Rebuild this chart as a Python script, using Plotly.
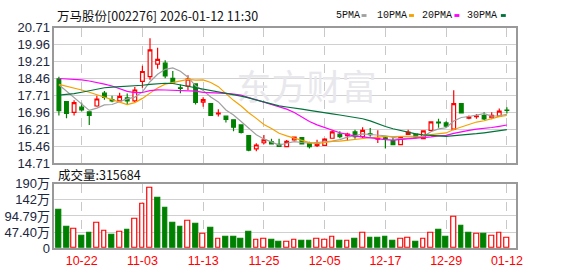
import plotly.graph_objects as go

title_text = "万马股份[002276] 2026-01-12 11:30"
volume_title = "成交量"

dates = ["10-17", "10-20", "10-21", "10-22", "10-23", "10-24", "10-27", "10-28", "10-29", "10-30",
         "10-31", "11-03", "11-04", "11-05", "11-06", "11-07", "11-10", "11-11", "11-12", "11-13",
         "11-14", "11-17", "11-18", "11-19", "11-20", "11-21", "11-24", "11-25", "11-26", "11-27",
         "11-28", "12-01", "12-02", "12-03", "12-04", "12-05", "12-08", "12-09", "12-10", "12-11",
         "12-12", "12-15", "12-16", "12-17", "12-18", "12-19", "12-22", "12-23", "12-24", "12-25",
         "12-26", "12-29", "12-30", "12-31", "01-05", "01-06", "01-07", "01-08", "01-09", "01-12"]

opens = [18.44, 17.44, 16.96, 17.19, 16.98, 17.24, 17.81, 17.52, 17.47, 17.60,
         17.47, 18.33, 18.54, 19.10, 19.14, 18.47, 18.05, 18.12, 18.22, 17.41,
         17.35, 16.89, 16.79, 16.63, 16.40, 15.93, 15.34, 15.61, 15.65, 15.54,
         15.44, 15.74, 15.84, 15.58, 15.48, 15.49, 15.81, 15.99, 15.93, 16.09,
         15.88, 16.01, 15.77, 15.83, 15.70, 15.53, 15.98, 15.99, 15.79, 16.16,
         16.53, 16.49, 16.21, 17.35, 16.70, 16.77, 16.81, 16.72, 16.79, 17.06]
highs = [18.54, 17.44, 17.49, 17.38, 16.98, 17.69, 17.91, 17.69, 17.83, 17.79,
         18.08, 19.03, 20.25, 19.83, 19.27, 18.79, 18.19, 18.61, 18.22, 17.63,
         17.35, 17.10, 16.79, 16.65, 16.40, 15.93, 15.59, 15.95, 15.79, 15.79,
         15.73, 15.88, 15.84, 15.65, 15.74, 15.81, 16.16, 16.12, 16.05, 16.19,
         16.30, 16.26, 16.16, 15.91, 15.88, 15.91, 16.19, 15.99, 16.16, 16.54,
         16.68, 16.56, 17.94, 17.35, 16.82, 16.88, 16.96, 16.96, 17.13, 17.19]
lows = [16.82, 16.70, 16.82, 17.00, 16.40, 17.21, 17.52, 17.41, 17.47, 17.28,
        17.41, 18.05, 18.40, 18.89, 18.47, 18.26, 17.81, 17.95, 17.31, 17.21,
        16.82, 16.77, 16.51, 16.12, 16.02, 15.23, 15.23, 15.54, 15.54, 15.42,
        15.44, 15.70, 15.54, 15.35, 15.42, 15.47, 15.79, 15.81, 15.70, 15.79,
        15.81, 15.88, 15.60, 15.35, 15.51, 15.53, 15.95, 15.81, 15.79, 16.16,
        16.28, 16.26, 16.16, 16.93, 16.65, 16.68, 16.62, 16.65, 16.77, 16.91]
closes = [17.03, 16.91, 17.39, 17.07, 16.82, 17.55, 17.62, 17.47, 17.67, 17.47,
          17.95, 18.77, 19.73, 19.31, 18.58, 18.26, 18.02, 18.43, 17.40, 17.52,
          16.82, 16.93, 16.65, 16.30, 16.07, 15.28, 15.51, 15.74, 15.56, 15.45,
          15.67, 15.86, 15.56, 15.44, 15.58, 15.77, 16.09, 15.88, 15.99, 15.88,
          16.16, 15.97, 15.81, 15.78, 15.53, 15.86, 16.08, 15.86, 16.14, 16.54,
          16.49, 16.35, 17.35, 16.93, 16.75, 16.79, 16.67, 16.82, 17.01, 17.04]
volumes = [1115000, 641000, 576000, 362000, 437000, 743000, 520000, 390000, 493000, 530000,
           864000, 1300000, 1775000, 1478000, 1199000, 753000, 641000, 800000, 725000, 409000,
           585000, 270000, 335000, 335000, 279000, 474000, 242000, 270000, 251000, 195000,
           186000, 251000, 223000, 223000, 270000, 251000, 325000, 223000, 214000, 279000,
           437000, 307000, 307000, 335000, 223000, 270000, 297000, 195000, 270000, 465000,
           530000, 335000, 920000, 669000, 446000, 409000, 418000, 362000, 465000, 315684]

ma5_head = [18.18, 17.90, 17.62, 17.36]
ma10_head = [18.20, 18.12, 18.05, 17.95, 17.85, 17.74, 17.62, 17.49, 17.38]
ma20_head = [18.46, 18.45, 18.43, 18.40, 18.35, 18.29, 18.21, 18.13, 18.00, 17.89,
             17.83, 17.84, 17.92, 17.96, 17.95, 17.94, 17.93, 17.92, 17.90]
ma30_head = [17.72, 17.74, 17.79, 17.85, 17.92, 17.99, 18.05, 18.08, 18.10, 18.11,
             18.12, 18.16, 18.20, 18.23, 18.25, 18.24, 18.18, 18.10, 18.03, 17.97,
             17.93, 17.88, 17.82, 17.75, 17.68, 17.60, 17.51, 17.42, 17.33]

tick_dates = ["10-22", "11-03", "11-13", "11-25", "12-05", "12-17", "12-29", "01-12"]
price_ticks = [14.71, 15.46, 16.21, 16.96, 17.71, 18.46, 19.21, 19.96, 20.71]
vol_axis_max = 1895800
vol_tick_labels = ["0", "47.40万", "94.79万", "142万", "190万"]

ma_names = ["5PMA", "10PMA", "20PMA", "30PMA"]
ma_colors = ["#a0a0a0", "#f5a200", "#ff00ff", "#00733a"]

RED = "#ff0000"
GREEN = "#008000"
W, H = 578, 276


def moving_average(vals, n, head):
    out = list(head)
    for i in range(len(head), len(vals)):
        out.append(sum(vals[i - n + 1:i + 1]) / n)
    return out


mas = [moving_average(closes, 5, ma5_head), moving_average(closes, 10, ma10_head),
       moving_average(closes, 20, ma20_head), moving_average(closes, 30, ma30_head)]

xs = list(range(len(dates)))
tickvals = [dates.index(d) for d in tick_dates]

fig = go.Figure()

# watermark (drawn first so it stays beneath the marks)
fig.add_trace(go.Scatter(x=[32.6], y=[17.90], mode="text", text=["东方财富"],
                         textfont=dict(size=35, color="#e8e8ec", family="Noto Sans CJK SC"),
                         hoverinfo="skip", showlegend=False, xaxis="x", yaxis="y"))

for name, col, vals in zip(ma_names, ma_colors, mas):
    fig.add_trace(go.Scatter(x=xs, y=vals, mode="lines", name=name,
                             line=dict(color=col, width=1.2), hoverinfo="skip",
                             showlegend=False, xaxis="x", yaxis="y"))

fig.add_trace(go.Candlestick(
    x=xs, open=opens, high=highs, low=lows, close=closes,
    increasing=dict(line=dict(color=RED, width=1.2), fillcolor="white"),
    decreasing=dict(line=dict(color=GREEN, width=1.2), fillcolor=GREEN),
    whiskerwidth=0, hoverinfo="skip", showlegend=False, xaxis="x", yaxis="y"))

vol_up = [(closes[i] > (closes[i - 1] if i > 0 else opens[0])) for i in range(len(closes))]
fig.add_trace(go.Bar(
    x=xs, y=volumes, width=0.62,
    marker=dict(color=["white" if u else GREEN for u in vol_up],
                line=dict(color=[RED if u else GREEN for u in vol_up], width=1.2)),
    hoverinfo="skip", showlegend=False, xaxis="x2", yaxis="y2"))

xdom = [55 / W, 522 / W]
frame = dict(showline=True, linecolor="#999999", linewidth=1.5, mirror=True, zeroline=False, ticks="")
xcommon = dict(domain=xdom, range=[-0.6, 60.16], tickvals=tickvals, ticktext=tick_dates,
               showgrid=True, gridcolor="#c8c8c8", griddash="dash", gridwidth=1, **frame)

fig.update_layout(
    width=W, height=H, autosize=False,
    margin=dict(l=0, r=0, t=0, b=0),
    paper_bgcolor="white", plot_bgcolor="white",
    bargap=0, boxgap=0.3,
    xaxis=dict(anchor="y", showticklabels=False, rangeslider=dict(visible=False), **xcommon),
    yaxis=dict(domain=[1 - 165 / H, 1 - 22 / H], range=[14.71, 20.71], tickvals=price_ticks,
               ticktext=[f"{v:.2f}" for v in price_ticks],
               tickfont=dict(family="Liberation Sans", size=13, color="#1c2740"),
               showgrid=True, gridcolor="#d0d0d0", gridwidth=1, **frame),
    xaxis2=dict(anchor="y2", showticklabels=True,
                tickfont=dict(family="Liberation Sans", size=12.5, color=RED), **xcommon),
    yaxis2=dict(domain=[1 - 255 / H, 1 - 187 / H], range=[0, vol_axis_max],
                tickvals=[i * vol_axis_max / 4 for i in range(5)], ticktext=vol_tick_labels,
                tickfont=dict(family="Liberation Sans, Noto Sans CJK SC", size=13, color="#1c2740"),
                showgrid=True, gridcolor="#d0d0d0", gridwidth=1, **frame),
)

ann = [
    dict(text=title_text, x=56 / W, y=1 - 9 / H, xref="paper", yref="paper", xanchor="left",
         yanchor="middle", showarrow=False,
         font=dict(family="Noto Sans CJK SC", size=12.5, color="#111111")),
    dict(text=f"{volume_title}:{volumes[-1]}", x=57 / W, y=1 - 177 / H, xref="paper", yref="paper",
         xanchor="left", yanchor="middle", showarrow=False,
         font=dict(family="Noto Sans CJK SC", size=12.5, color="#111111")),
]
legend_x = [338, 380, 425, 471]
legend_sq = [366, 414, 460, 507]
shapes = []
for name, col, lx, sx in zip(ma_names, ma_colors, legend_x, legend_sq):
    ann.append(dict(text=name, x=lx / W, y=1 - 9 / H, xref="paper", yref="paper", xanchor="left",
                    yanchor="middle", showarrow=False,
                    font=dict(family="Liberation Mono", size=10, color="#111111")))
    shapes.append(dict(type="rect", xref="paper", yref="paper", x0=sx / W, x1=(sx + 5) / W,
                       y0=1 - 10.5 / H, y1=1 - 7.5 / H, fillcolor=col, line=dict(width=0)))
fig.update_layout(annotations=ann, shapes=shapes)

fig.write_html("out.html", config={"displayModeBar": False})
